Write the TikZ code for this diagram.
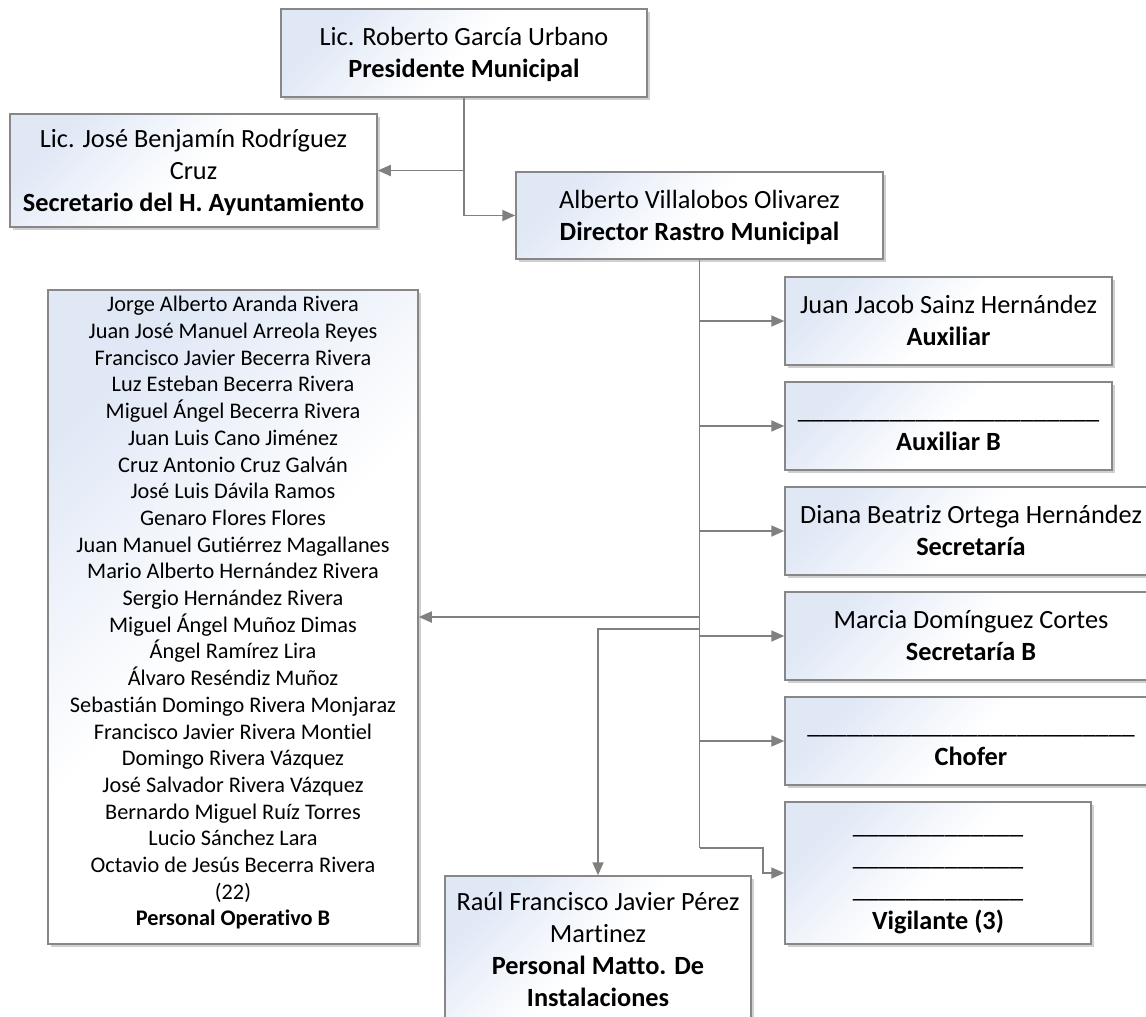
\documentclass[tikz,border=0pt]{standalone}
\usepackage{fontspec}
\setmainfont{Carlito}[Ligatures={NoCommon}]
\usetikzlibrary{arrows.meta,shadows}
\definecolor{lineGray}{RGB}{128,128,128}
\definecolor{boxBorder}{RGB}{135,135,135}
\definecolor{boxTint}{RGB}{224,232,246}
\newcommand\bst{\rule[-7.1pt]{0pt}{32pt}}
\newcommand\lst{\rule[-5.5pt]{0pt}{26.7pt}}
\newcommand\lend{\rule[-17.5pt]{0pt}{26.7pt}}
\begin{document}
\begin{tikzpicture}[x=1pt,y=-1pt,
  orgbox/.style={draw=boxBorder, line width=1.5pt, rectangle, inner sep=0pt, align=center,
    top color=boxTint, bottom color=white, middle color=white, shading angle=45,
    drop shadow={shadow xshift=3pt, shadow yshift=-3pt, opacity=0.3, fill=black!60},
    font=\fontsize{26.3}{32}\selectfont},
  listfont/.style={font=\fontsize{22.3}{26.7}\selectfont},
  link/.style={draw=lineGray, line width=1.8pt},
  arr/.style={link, -{Triangle[length=13pt,width=11pt]}},
]
\useasboundingbox (0,0) rectangle (1146,1017);
\clip (0,0) rectangle (1146,1017);
\fill[white] (0,0) rectangle (1146,1017);

\node[orgbox, minimum width=366pt, minimum height=88pt] (pres) at (464,53)
  {\bst Lic. Roberto García Urbano\\\textbf{Presidente Municipal}\bst};
\node[orgbox, minimum width=367pt, minimum height=113pt] (sec) at (193.5,170.5)
  {\bst Lic. José Benjamín Rodríguez\\Cruz\\\textbf{Secretario del H. Ayuntamiento}\bst};
\node[orgbox, minimum width=367pt, minimum height=87pt] (dir) at (699.5,215.5)
  {\bst Alberto Villalobos Olivarez\\\textbf{Director Rastro Municipal}\bst};

\node[orgbox, listfont, minimum width=370pt, minimum height=654pt] (list) at (233,617)
  {\lst Jorge Alberto Aranda Rivera\\
   Juan José Manuel Arreola Reyes\\
   Francisco Javier Becerra Rivera\\
   Luz Esteban Becerra Rivera\\
   Miguel Ángel Becerra Rivera\\
   Juan Luis Cano Jiménez\\
   Cruz Antonio Cruz Galván\\
   José Luis Dávila Ramos\\
   Genaro Flores Flores\\
   Juan Manuel Gutiérrez Magallanes\\
   Mario Alberto Hernández Rivera\\
   Sergio Hernández Rivera\\
   Miguel Ángel Muñoz Dimas\\
   Ángel Ramírez Lira\\
   Álvaro Reséndiz Muñoz\\
   Sebastián Domingo Rivera Monjaraz\\
   Francisco Javier Rivera Montiel\\
   Domingo Rivera Vázquez\\
   José Salvador Rivera Vázquez\\
   Bernardo Miguel Ruíz Torres\\
   Lucio Sánchez Lara\\
   Octavio de Jesús Becerra Rivera\\
   (22)\\
   \textbf{Personal Operativo B}\lend};

\node[orgbox, minimum width=327pt, minimum height=88pt] (b1) at (948.5,321)
  {\bst Juan Jacob Sainz Hernández\\\textbf{Auxiliar}\bst};
\node[orgbox, minimum width=327pt, minimum height=88pt] (b2) at (948.5,426)
  {\bst\_\_\_\_\_\_\_\_\_\_\_\_\_\_\_\_\_\_\_\_\_\_\_\\\textbf{Auxiliar B}\bst};
\node[orgbox, minimum width=372pt, minimum height=88pt] (b3) at (971,531)
  {\bst Diana Beatriz Ortega Hernández\\\textbf{Secretaría}\bst};
\node[orgbox, minimum width=372pt, minimum height=88pt] (b4) at (971,636)
  {\bst Marcia Domínguez Cortes\\\textbf{Secretaría B}\bst};
\node[orgbox, minimum width=372pt, minimum height=88pt] (b5) at (971,741)
  {\bst\_\_\_\_\_\_\_\_\_\_\_\_\_\_\_\_\_\_\_\_\_\_\_\_\_\\\textbf{Chofer}\bst};
\node[orgbox, minimum width=306pt, minimum height=142pt] (b6) at (938,873)
  {\bst\_\_\_\_\_\_\_\_\_\_\_\_\_\\\_\_\_\_\_\_\_\_\_\_\_\_\_\\\_\_\_\_\_\_\_\_\_\_\_\_\_\\\textbf{Vigilante (3)}\bst};
\node[orgbox, minimum width=306pt, minimum height=148pt] (raul) at (598,950)
  {\bst Raúl Francisco Javier Pérez\\Martinez\\\textbf{Personal Matto. De}\\\textbf{Instalaciones}\bst};

% connectors
\draw[arr] (pres.south) |- (sec.east);
\draw[arr] (pres.south) |- (dir.west);

\coordinate (vj) at (699.5,848);
\coordinate (ve) at (763,848);
\coordinate (rj) at (699.5,629);
\draw[link] (dir.south) -- (vj);
\draw[arr] (dir.south |- b1.west) -- (b1.west);
\draw[arr] (dir.south |- b2.west) -- (b2.west);
\draw[arr] (dir.south |- b3.west) -- (b3.west);
\draw[arr] (dir.south |- b4.west) -- (b4.west);
\draw[arr] (dir.south |- b5.west) -- (b5.west);
\draw[arr] (dir.south |- list.east) -- (list.east);
\draw[arr] (rj) -| (raul.north);
\draw[arr] (vj) -- (ve) |- (b6.west);
\end{tikzpicture}
\end{document}
